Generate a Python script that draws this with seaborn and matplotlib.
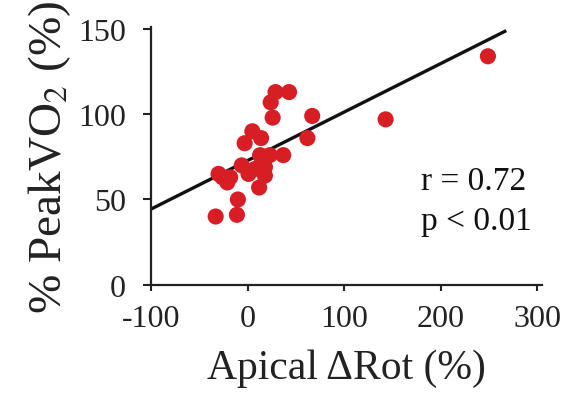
import numpy as np
import pandas as pd
import matplotlib
matplotlib.use("Agg")
import matplotlib.pyplot as plt
import seaborn as sns

# apical delta rotation (%) vs % peak VO2 (%)
apical_drot = [249, 143, 67, 62, 43, 29, 24, 26, 5, 14, -3, 37, 13, 23,
               -6, 18, -30, -18, 1, 18, -21, 12, -10, -11, -33, -26, 8]
peak_vo2 = [134, 97, 99, 86, 113, 113, 107, 98, 90, 86, 83, 76, 76, 76,
            70, 69, 65, 63, 65, 64, 60, 57, 50, 41, 40, 63, 68]

# regression line as printed in the figure
fit_intercept = 72.8
fit_slope = 0.2845
fit_range = [-100, 268]

r_text = "r = 0.72"
p_text = "p < 0.01"

df = pd.DataFrame({"drot": apical_drot, "vo2": peak_vo2})

sns.set_style("ticks")
plt.rcParams["font.family"] = ["Liberation Serif", "DejaVu Serif"]
plt.rcParams["mathtext.fontset"] = "stix"
plt.rcParams["axes.unicode_minus"] = False

fig = plt.figure(figsize=(5.67, 4.02), dpi=100)
ax = fig.add_axes([0.2663, 0.2893, 0.6896, 0.6403])

sns.scatterplot(data=df, x="drot", y="vo2", ax=ax, color="#d81e25",
                s=135, edgecolor="none", zorder=3, legend=False)

xs = np.array(fit_range, dtype=float)
ax.plot(xs, fit_intercept + fit_slope * xs, color="#111111", lw=2.4,
        solid_capstyle="butt", zorder=2)

ax.set_xlim(-100, 305)
ax.set_ylim(0, 151)
ax.set_xticks([-100, 0, 100, 200, 300])
ax.set_yticks([0, 50, 100, 150])
ax.tick_params(axis="both", labelsize=23, colors="#222222", width=1.5)
ax.tick_params(axis="y", length=6, pad=12)
ax.tick_params(axis="x", length=4, pad=10)
for side in ("left", "bottom"):
    ax.spines[side].set_linewidth(1.6)
    ax.spines[side].set_color("#222222")
sns.despine(ax=ax)

ax.set_xlabel("Apical \u0394Rot (%)", fontsize=30, color="#222222", labelpad=11)
ax.set_ylabel("% PeakVO$_2$ (%)", fontsize=34, color="#222222", labelpad=4)

ax.text(0.69, 0.37, r_text, transform=ax.transAxes, fontsize=24,
        color="#111111")
ax.text(0.69, 0.215, p_text, transform=ax.transAxes, fontsize=24,
        color="#111111")

fig.savefig("out.png", dpi=100)
